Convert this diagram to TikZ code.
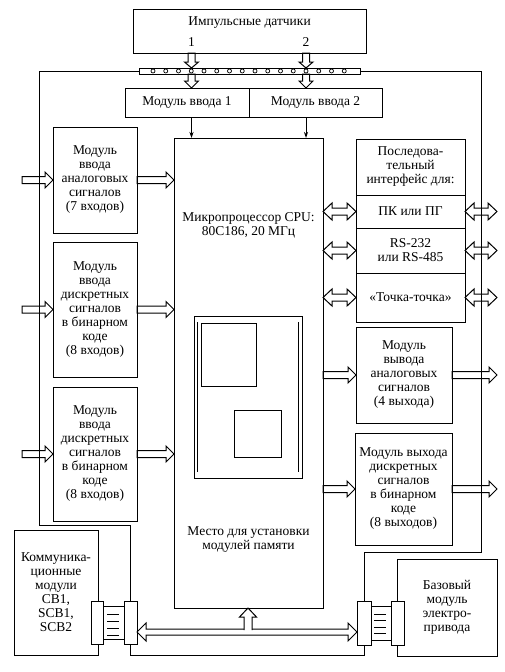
\documentclass[tikz,border=0pt]{standalone}
\usepackage{fontspec}
\setmainfont{Liberation Serif}
\usetikzlibrary{calc,arrows.meta}
\newcommand\diagfont{\fontsize{13.5}{14}\selectfont}
% hollow arrow macros: #1 from, #2 to (tip), #3 shaft half, #4 head half, #5 head length
\newcommand\ArrR[5]{\draw[hol] let \p1=(#1), \p2=(#2) in
  (\x1,{\y1+#3}) -- ({\x2-#5},{\y1+#3}) -- ({\x2-#5},{\y1+#4}) -- (\x2,\y1) --
  ({\x2-#5},{\y1-#4}) -- ({\x2-#5},{\y1-#3}) -- (\x1,{\y1-#3}) -- cycle;}
\newcommand\ArrLR[5]{\draw[hol] let \p1=(#1), \p2=(#2) in
  (\x1,\y1) -- ({\x1+#5},{\y1+#4}) -- ({\x1+#5},{\y1+#3}) -- ({\x2-#5},{\y1+#3}) --
  ({\x2-#5},{\y1+#4}) -- (\x2,\y1) -- ({\x2-#5},{\y1-#4}) -- ({\x2-#5},{\y1-#3}) --
  ({\x1+#5},{\y1-#3}) -- ({\x1+#5},{\y1-#4}) -- cycle;}
\newcommand\ArrD[5]{\draw[hol] let \p1=(#1), \p2=(#2) in
  ({\x1-#3},\y1) -- ({\x1-#3},{\y2+#5}) -- ({\x1-#4},{\y2+#5}) -- (\x1,\y2) --
  ({\x1+#4},{\y2+#5}) -- ({\x1+#3},{\y2+#5}) -- ({\x1+#3},\y1) -- cycle;}
\tikzset{
  box/.style={draw, fill=white, inner sep=0pt, outer sep=0pt, align=center, font=\diagfont},
  lbl/.style={inner sep=0pt, align=center, font=\diagfont},
  hol/.style={draw, line join=miter},
  thinarr/.style={-{Stealth[length=6pt,width=4pt]}},
  conn/.style={draw, fill=white, inner sep=0pt, outer sep=0pt}
}
\begin{document}
\begin{tikzpicture}[x=1pt,y=-1pt,line width=1pt]
\useasboundingbox (0,0) rectangle (505,672);

% top sensors
\node[box, minimum width=233pt, minimum height=44pt] (sens) at (249.5,31) {};
\node[lbl] (senst) at (249.5,23) {Импульсные датчики};
\node[lbl] (n1) at (191.5,42) {1};
\node[lbl] (n2) at (306,42) {2};

% bus bar
\node[box, minimum width=221pt, minimum height=6pt] (bus) at (249.5,71) {};
\foreach \i in {0,...,15} \draw[line width=0.7pt] ({153+12.75*\i},71) circle (2);

% input modules
\node[box, minimum width=124pt, minimum height=29pt] (mv1) at (187,102.5) {Модуль ввода 1};
\node[box, minimum width=133pt, minimum height=29pt] (mv2) at (315.5,102.5) {Модуль ввода 2};

% CPU
\node[box, minimum width=149pt, minimum height=470pt] (cpu) at (248.5,373) {};
\node[lbl] (cput) at (248.5,225) {Микропроцессор CPU:\\80C186, 20 МГц};
\node[lbl] (memt) at (248.5,540) {Место для установки\\модулей памяти};
\node[box, minimum width=108pt, minimum height=162pt] (mem) at (248,397) {};
\draw (197.5,322) -- (197.5,472);
\draw (298.5,322) -- (298.5,472);
\node[box, minimum width=55pt, minimum height=63pt] (chipA) at (228.5,354.5) {};
\node[box, minimum width=47pt, minimum height=47pt] (chipB) at (257.5,433.5) {};

% left modules
\node[box, minimum width=84pt, minimum height=106pt] (ain) at (95,180)
  {Модуль\\ввода\\аналоговых\\сигналов\\(7 входов)};
\node[box, minimum width=84pt, minimum height=135pt] (dinA) at (95,309.5)
  {Модуль\\ввода\\дискретных\\сигналов\\в бинарном\\коде\\(8 входов)};
\node[box, minimum width=84pt, minimum height=134pt] (dinB) at (95,454)
  {Модуль\\ввода\\дискретных\\сигналов\\в бинарном\\коде\\(8 входов)};

% serial interface
\node[box, minimum width=109pt, minimum height=56pt] (serA) at (410.5,167)
  {Последова-\\тельный\\интерфейс для:};
\node[box, minimum width=109pt, minimum height=33pt] (serB) at (410.5,211.5) {ПК или ПГ};
\node[box, minimum width=109pt, minimum height=45pt] (serC) at (410.5,250.5) {RS-232\\или RS-485};
\node[box, minimum width=109pt, minimum height=49pt] (serD) at (410.5,297.5) {«Точка-точка»};

% output modules
\node[box, minimum width=96pt, minimum height=96pt] (aout) at (404,375)
  {Модуль\\вывода\\аналоговых\\сигналов\\(4 выхода)};
\node[box, minimum width=97pt, minimum height=112pt] (dout) at (403.5,489)
  {Модуль выхода\\дискретных\\сигналов\\в бинарном\\коде\\(8 выходов)};

% bottom boxes
\node[box, minimum width=84pt, minimum height=125pt] (comm) at (56,592.5)
  {Коммуника-\\ционные\\модули\\CB1,\\SCB1,\\SCB2};
\node[box, minimum width=100pt, minimum height=97pt] (base) at (447,607.5)
  {Базовый\\модуль\\электро-\\привода};

% connectors
\node[conn, minimum width=21pt, minimum height=33pt] (cLm) at (113.5,622.5) {};
\foreach \yy in {614,621,628,635} \draw (107,\yy) -- (119,\yy);
\node[conn, minimum width=12pt, minimum height=43pt] (cLa) at (97,622.5) {};
\node[conn, minimum width=13pt, minimum height=43pt] (cLb) at (130.5,622.5) {};
\node[conn, minimum width=20pt, minimum height=34pt] (cRm) at (381,623) {};
\foreach \yy in {614,620,627,633} \draw (374,\yy) -- (386,\yy);
\node[conn, minimum width=14pt, minimum height=44pt] (cRa) at (364,623) {};
\node[conn, minimum width=13pt, minimum height=44pt] (cRb) at (397.5,623) {};

% wiring
\coordinate (lL) at (39,525);
\coordinate (lR) at (481,552);
\coordinate (lB) at (364,655);
\draw (bus.west) -| (lL) -| (cLb.north);
\draw (bus.east) -| (lR) -| (cRa.north);
\draw (cLb.south) |- (lB) -- (cRa.south);

% sensor arrows
\ArrD{sens.south -| n1}{bus.north -| n1}{3.5pt}{7pt}{6pt}
\ArrD{sens.south -| n2}{bus.north -| n2}{3.5pt}{7pt}{6pt}
\ArrD{bus.south -| n1}{mv1.north -| n1}{3.5pt}{7pt}{7pt}
\ArrD{bus.south -| n2}{mv2.north -| n2}{3.5pt}{7pt}{7pt}
\draw[thinarr] (mv1.south -| n1) -- (cpu.north -| n1);
\draw[thinarr] (mv2.south -| n2) -- (cpu.north -| n2);

% left inputs
\coordinate (inA) at (22,180);
\coordinate (inB) at (22,309.5);
\coordinate (inC) at (22,454);
\ArrR{inA}{ain.west}{3.5pt}{8pt}{8pt}
\ArrR{inB}{dinA.west}{3.5pt}{8pt}{8pt}
\ArrR{inC}{dinB.west}{3.5pt}{8pt}{8pt}
\ArrR{ain.east}{cpu.west |- ain.east}{3.5pt}{8pt}{8pt}
\ArrR{dinA.east}{cpu.west |- dinA.east}{3.5pt}{8pt}{8pt}
\ArrR{dinB.east}{cpu.west |- dinB.east}{3.5pt}{8pt}{8pt}

% serial double arrows
\coordinate (oB) at (497,211.5);
\coordinate (oC) at (497,250.5);
\coordinate (oD) at (497,297.5);
\ArrLR{cpu.east |- serB.west}{serB.west}{3.5pt}{8.5pt}{9pt}
\ArrLR{cpu.east |- serC.west}{serC.west}{3.5pt}{8.5pt}{9pt}
\ArrLR{cpu.east |- serD.west}{serD.west}{3.5pt}{8.5pt}{9pt}
\ArrLR{serB.east}{oB}{3.5pt}{8.5pt}{9pt}
\ArrLR{serC.east}{oC}{3.5pt}{8.5pt}{9pt}
\ArrLR{serD.east}{oD}{3.5pt}{8.5pt}{9pt}

% outputs
\coordinate (oE) at (497,375);
\coordinate (oF) at (497,489);
\ArrR{cpu.east |- aout.west}{aout.west}{3.5pt}{8pt}{8pt}
\ArrR{cpu.east |- dout.west}{dout.west}{3.5pt}{8pt}{8pt}
\ArrR{aout.east}{oE}{3.5pt}{8pt}{8pt}
\ArrR{dout.east}{oF}{3.5pt}{8pt}{8pt}

% bottom bus
\coordinate (bY) at (248,632);
\coordinate (upb) at (248,629);
\ArrLR{cLb.east |- bY}{cRa.west |- bY}{3pt}{9pt}{9pt}
\draw[hol, fill=white] let \p1=(upb), \p2=(cpu.south -| upb) in
  ({\x1-4pt},{\y1-1pt}) -- ({\x1-4pt},{\y2-9pt}) -- ({\x1-8.5pt},{\y2-9pt}) -- (\x2,\y2) --
  ({\x1+8.5pt},{\y2-9pt}) -- ({\x1+4pt},{\y2-9pt}) -- ({\x1+4pt},{\y1-1pt});
\end{tikzpicture}
\end{document}
